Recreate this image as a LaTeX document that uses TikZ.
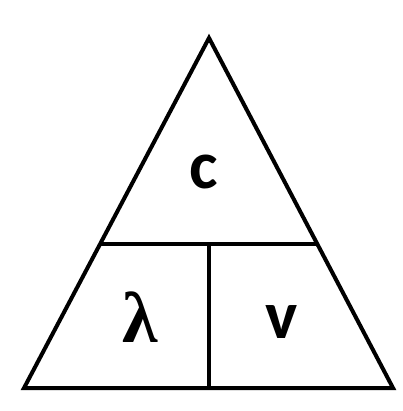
\documentclass[tikz,border=0pt]{standalone}
\usepackage{fontspec}
\usepackage{tikz}
\usetikzlibrary{calc}
\newfontfamily\calfont{Carlito}
\newfontfamily\grkfont{Liberation Serif}

\begin{document}
\begin{tikzpicture}[x=1pt,y=-1pt,line width=4pt]
  \tikzstyle{sym}=[inner sep=0pt,
    font=\calfont\bfseries\fontsize{68}{68}\selectfont]
  \useasboundingbox[fill=white] (0,0) rectangle (402,411);
  \coordinate (apex) at (209,38);
  \coordinate (left) at (24,388);
  \coordinate (right) at (393,388);
  \coordinate (l) at ($(left)!0.411!(apex)$);
  \coordinate (r) at ($(right)!0.411!(apex)$);
  \coordinate (mid) at (209,388);
  \draw (apex)--(right)--(left)--cycle;
  \draw (l)--(r);
  \draw (mid)--(l-|mid);
  \node[sym] (c) at (204,172) {c};
  \node[inner sep=0pt,font=\grkfont\bfseries\fontsize{72}{72}\selectfont] (lam) at (140,317) {λ};
  \node[sym] (v) at (282,322) {v};
\end{tikzpicture}
\end{document}
